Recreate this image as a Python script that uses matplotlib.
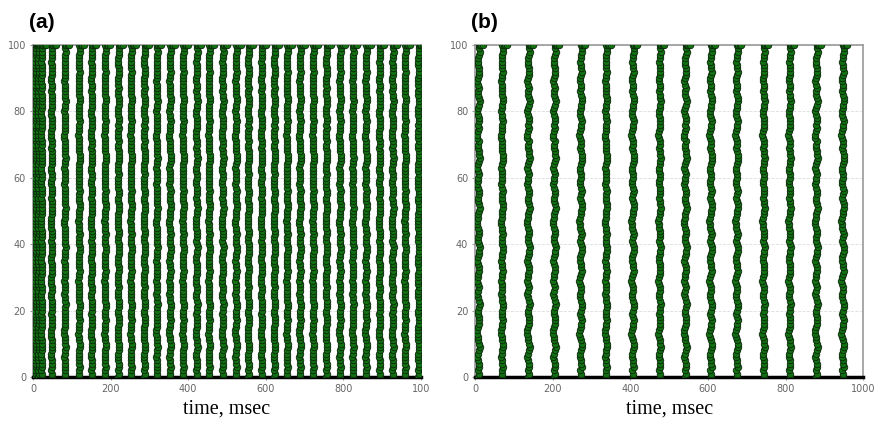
import numpy as np
import matplotlib.pyplot as plt

# burst (population spike) times, ms
bursts_a = [6, 14, 22, 48, 82, 119, 151, 186, 220, 253, 287, 319, 353, 387, 422,
            454, 489, 523, 555, 589, 622, 655, 688, 722, 756, 791, 824, 858, 893,
            927, 959, 993]
bursts_b = [8, 69, 137, 204, 272, 337, 406, 475, 541, 607, 674, 743, 810, 879, 947]

# per-neuron shift inside a burst (neurons 0..100), ms
jitter = [0, 1, -1, 2, 1, 0, -2, -1, 1, 3, 2, 0, -1, -3, -2, 0, 1, 2, 1, -1,
          0, 2, 3, 1, -1, -2, 0, 1, -1, -3, -1, 0, 2, 1, 0, -2, -1, 1, 2, 3,
          1, -1, 0, 2, 1, -1, -2, -3, -1, 0, 1, 3, 2, 0, -1, 1, 2, 0, -2, -1,
          0, 1, -1, -2, 0, 2, 3, 2, 1, -1, 0, 1, -2, -3, -1, 1, 0, 2, 1, -1,
          -2, 0, 1, 3, 2, 0, -1, 1, 0, -2, -1, 1, 2, 1, 0, -1, 0, 1, 3, 2, 1]
top_extra = [4, 8, 12]   # neuron 100 fires a few extra times at the top

xlabels_a = ['0', '200', '400', '600', '800', '100']
xlabels_b = ['0', '200', '400', '600', '800', '1000']
xticks = [0, 200, 400, 600, 800, 1000]
yticks = [0, 20, 40, 60, 80, 100]

neurons = np.arange(len(jitter))


def raster(ax, bursts, scale):
    ts, ns = [], []
    for b in bursts:
        ts.extend(b + scale * np.array(jitter))
        ns.extend(neurons)
        for e in top_extra:
            ts.append(b + e)
            ns.append(100)
    ax.scatter(ts, ns, s=22, c='#127012', edgecolors='#0a260a', linewidths=0.6, zorder=3)


fig = plt.figure(figsize=(8.8, 4.24), dpi=100)
ax1 = fig.add_axes([0.0375, 0.111, 0.441, 0.783])
ax2 = fig.add_axes([0.540, 0.111, 0.441, 0.783])

raster(ax1, bursts_a, 0.7)
raster(ax2, bursts_b, 1.2)

for ax, lab, xl in [(ax1, '(a)', xlabels_a), (ax2, '(b)', xlabels_b)]:
    ax.set_xlim(0, 1000)
    ax.set_ylim(0, 100)
    ax.set_xticks(xticks)
    ax.set_xticklabels(xl)
    ax.set_yticks(yticks)
    ax.tick_params(labelsize=7, labelcolor='#666666', length=2, color='#999999', pad=3)
    ax.grid(axis='y', color='#dddddd', linestyle='--', linewidth=0.6, zorder=0)
    for s in ['top', 'left', 'right']:
        ax.spines[s].set_color('#999999')
        ax.spines[s].set_linewidth(1.2)
    ax.spines['bottom'].set_color('black')
    ax.spines['bottom'].set_linewidth(2.5)
    ax.set_xlabel('time, msec', family='Liberation Serif', fontsize=14.5, labelpad=4)
    ax.text(-0.01, 1.04, lab, transform=ax.transAxes, fontsize=15, fontweight='bold',
            family='Liberation Sans', ha='left', va='bottom')

fig.savefig('out.png', dpi=100)
